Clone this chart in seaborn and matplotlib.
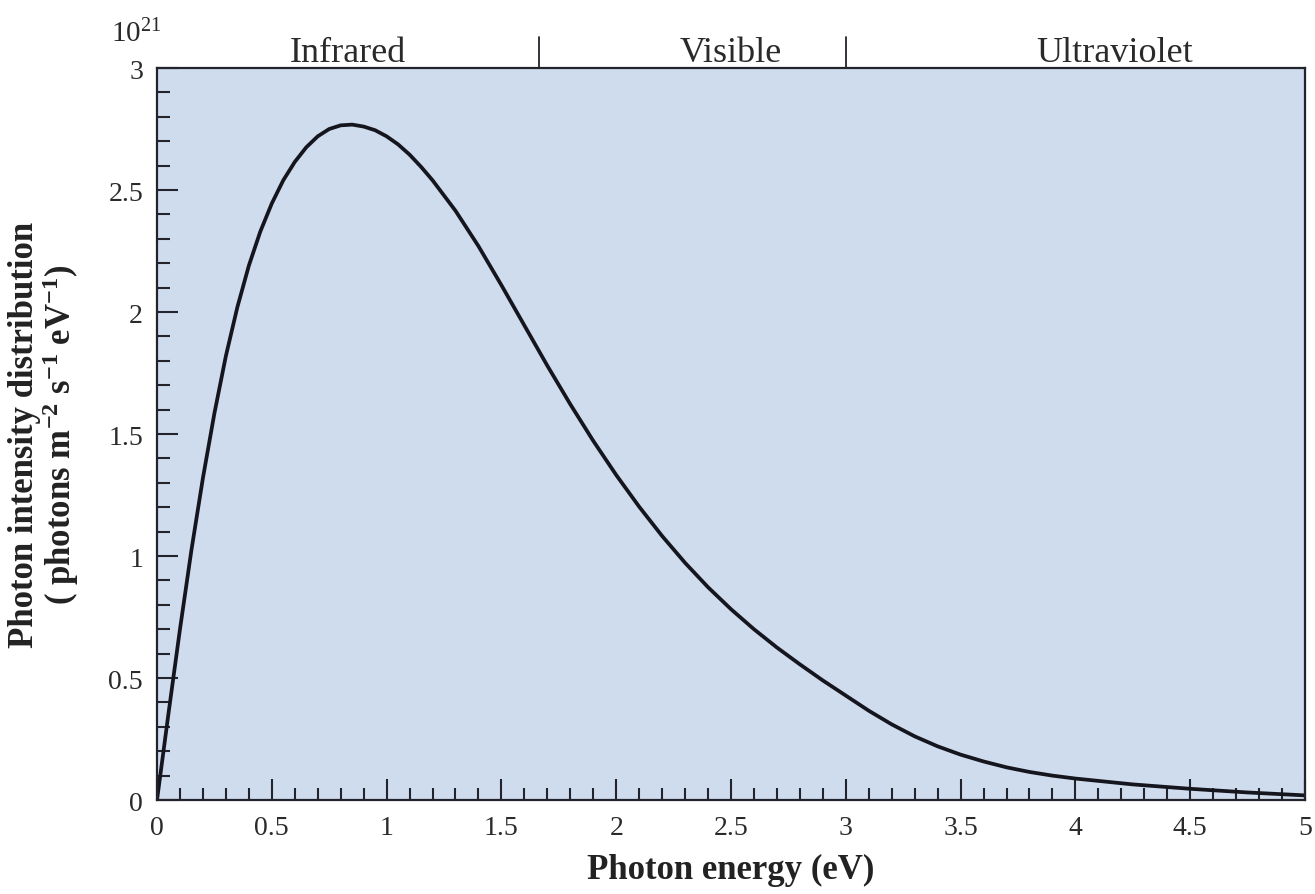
import numpy as np
import pandas as pd
import matplotlib
matplotlib.use("Agg")
import matplotlib.pyplot as plt
import matplotlib.transforms as mtransforms
from matplotlib.ticker import MultipleLocator, FixedLocator, FixedFormatter
import seaborn as sns

# ---- data ----
energy_ev = [0.0, 0.05, 0.1, 0.15, 0.2, 0.25, 0.3, 0.35, 0.4, 0.45, 0.5, 0.55, 0.6,
             0.65, 0.7, 0.75, 0.8, 0.85, 0.9, 0.95, 1.0, 1.05, 1.1, 1.15, 1.2, 1.3,
             1.4, 1.5, 1.6, 1.7, 1.8, 1.9, 2.0, 2.1, 2.2, 2.3, 2.4, 2.5, 2.6, 2.7,
             2.8, 2.9, 3.0, 3.1, 3.2, 3.3, 3.4, 3.5, 3.6, 3.7, 3.8, 3.9, 4.0, 4.25,
             4.5, 4.75, 5.0]
intensity_1e21 = [0.0, 0.355, 0.70, 1.025, 1.32, 1.585, 1.82, 2.02, 2.19, 2.33,
                  2.445, 2.54, 2.615, 2.675, 2.72, 2.75, 2.765, 2.768, 2.760, 2.745,
                  2.72, 2.687, 2.645, 2.595, 2.54, 2.415, 2.27, 2.11, 1.945, 1.78,
                  1.622, 1.472, 1.332, 1.202, 1.082, 0.972, 0.872, 0.782, 0.70,
                  0.625, 0.556, 0.49, 0.428, 0.366, 0.31, 0.261, 0.22, 0.186, 0.158,
                  0.134, 0.115, 0.100, 0.088, 0.064, 0.046, 0.031, 0.019]

region_names = ["Infrared", "Visible", "Ultraviolet"]
region_label_x = [0.83, 2.5, 4.17]
region_bounds = [1.665, 3.0]

x_ticks = [0, 0.5, 1, 1.5, 2, 2.5, 3, 3.5, 4, 4.5, 5]
x_tick_labels = ["0", "0.5", "1", "1.5", "2", "2.5", "3", "3.5", "4", "4.5", "5"]
y_ticks = [0, 0.5, 1, 1.5, 2, 2.5, 3]
y_tick_labels = ["0", "0.5", "1", "1.5", "2", "2.5", "3"]

df = pd.DataFrame({"energy": energy_ev, "intensity": intensity_1e21})

# ---- style ----
sns.set_theme(style="ticks")
plt.rcParams["font.family"] = ["Liberation Serif", "DejaVu Serif"]
plt.rcParams["mathtext.fontset"] = "custom"
plt.rcParams["mathtext.rm"] = "Liberation Serif"
plt.rcParams["mathtext.it"] = "Liberation Serif:italic"
plt.rcParams["mathtext.bf"] = "Liberation Serif:bold"

ink = "#23232c"
bg = "#cfdcee"

fig = plt.figure(figsize=(13.15, 8.95), dpi=100)
ax = fig.add_axes([0.1194, 0.105, 0.8730, 0.8179])
ax.set_facecolor(bg)

sns.lineplot(data=df, x="energy", y="intensity", ax=ax, color="#15151e",
             linewidth=2.7, sort=False)
for ln in ax.lines:
    ln.set_solid_joinstyle("round")
    ln.set_solid_capstyle("round")

ax.set_xlim(0, 5)
ax.set_ylim(0, 3)

ax.xaxis.set_major_locator(FixedLocator(x_ticks))
ax.xaxis.set_major_formatter(FixedFormatter(x_tick_labels))
ax.yaxis.set_major_locator(FixedLocator(y_ticks))
ax.yaxis.set_major_formatter(FixedFormatter(y_tick_labels))
ax.xaxis.set_minor_locator(MultipleLocator(0.1))
ax.yaxis.set_minor_locator(MultipleLocator(0.1))

ax.tick_params(axis="both", which="major", direction="in", length=15, width=1.5,
               color=ink, labelsize=20, labelcolor="#2a2a2a", pad=10)
ax.tick_params(axis="both", which="minor", direction="in", length=9, width=1.5,
               color=ink)
ax.tick_params(axis="x", which="major", pad=11)
ax.tick_params(top=False, right=False, which="both")

for sp in ax.spines.values():
    sp.set_visible(True)
    sp.set_color(ink)
    sp.set_linewidth(1.6)

ax.set_xlabel("Photon energy (eV)", fontsize=25, fontweight="bold", color="#222222",
              labelpad=9)
ax.set_ylabel("Photon intensity distribution\n"
              r"( photons m$^{\mathbf{-2}}$ s$^{\mathbf{-1}}$ eV$^{\mathbf{-1}}$)",
              fontsize=25, fontweight="bold", color="#222222", linespacing=1.0)
ax.yaxis.set_label_coords(-0.066, 0.5)

# spectral region separators and labels above the top spine
trans = mtransforms.blended_transform_factory(ax.transData, ax.transAxes)
for xb in region_bounds:
    ax.plot([xb, xb], [1.0, 1.042], transform=trans, color=ink, lw=1.3,
            clip_on=False)
for name, xc in zip(region_names, region_label_x):
    ax.text(xc, 1.009, name, transform=trans, ha="center", va="baseline",
            fontsize=26, color="#2a2a2a")

ax.text(-0.040, 1.037, r"$10^{21}$", transform=ax.transAxes, ha="left",
        va="baseline", fontsize=21, color="#2a2a2a")

fig.savefig("out.png", dpi=100)
